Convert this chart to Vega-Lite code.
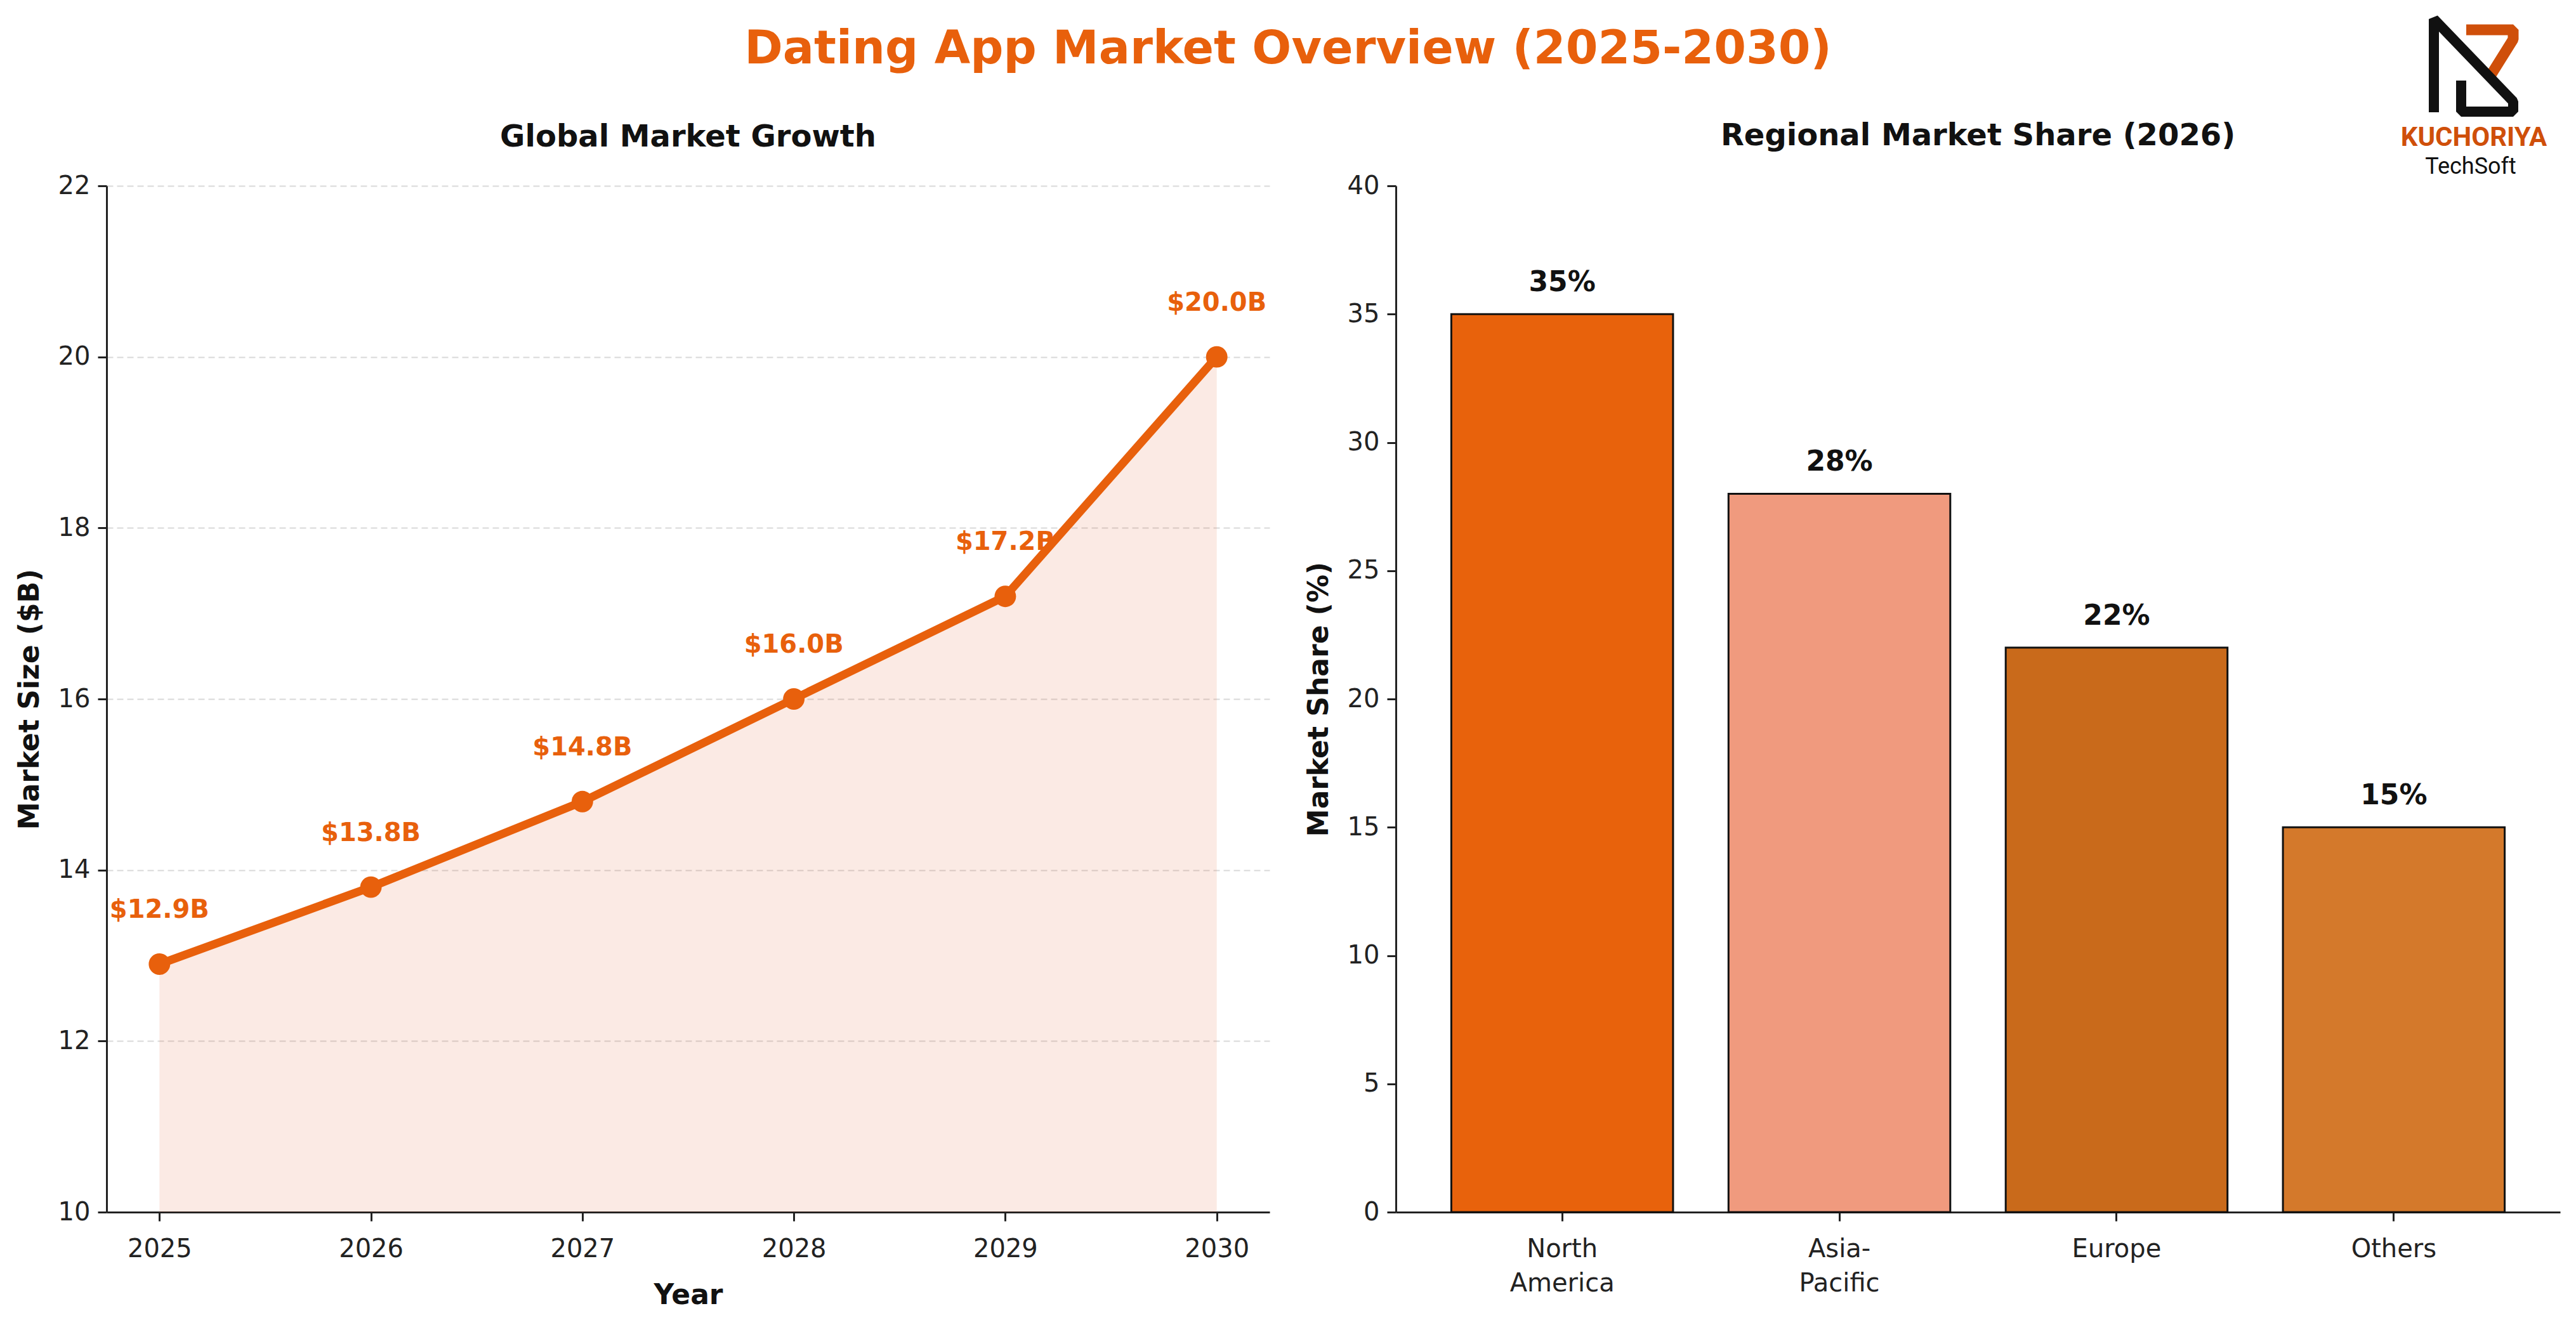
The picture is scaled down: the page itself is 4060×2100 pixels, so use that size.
{
  "$schema": "https://vega.github.io/schema/vega-lite/v6.json",
  "background": "white",
  "padding": {"left": 25, "top": 22, "right": 25, "bottom": 20},
  "spacing": 56,
  "config": {
    "font": "DejaVu Sans",
    "view": {"stroke": null},
    "axis": {
      "labelFont": "DejaVu Sans",
      "labelFontSize": 40,
      "labelColor": "#222222",
      "titleFont": "DejaVu Sans",
      "titleFontSize": 44,
      "titleFontWeight": "bold",
      "titleColor": "#111111",
      "domainColor": "#222222",
      "domainWidth": 3,
      "tickColor": "#222222",
      "tickWidth": 3,
      "tickSize": 14,
      "labelPadding": 12,
      "titlePadding": 22
    },
    "title": {"font": "DejaVu Sans", "fontWeight": "bold", "color": "#111111"}
  },
  "title": {
    "text": "Dating App Market Overview (2025-2030)",
    "fontSize": 73,
    "color": "#E8600C",
    "anchor": "middle",
    "offset": -93
  },
  "datasets": {
    "growth": [
      {"year": 2025, "size": 12.9},
      {"year": 2026, "size": 13.8},
      {"year": 2027, "size": 14.8},
      {"year": 2028, "size": 16.0},
      {"year": 2029, "size": 17.2},
      {"year": 2030, "size": 20.0}
    ],
    "share": [
      {"region": "North America", "share": 35},
      {"region": "Asia-Pacific", "share": 28},
      {"region": "Europe", "share": 22},
      {"region": "Others", "share": 15}
    ],
    "logo": [
      {"part": "orange", "i": 1, "u": 45.2, "v": 10.8},
      {"part": "orange", "i": 2, "u": 74.8, "v": 10.8},
      {"part": "orange", "i": 3, "u": 74.8, "v": 16.8},
      {"part": "orange", "i": 4, "u": 60.8, "v": 39.2},
      {"part": "black", "i": 1, "u": 24.8, "v": 62.8},
      {"part": "black", "i": 2, "u": 24.8, "v": 4.0},
      {"part": "black", "i": 3, "u": 74.8, "v": 56.0},
      {"part": "black", "i": 4, "u": 74.8, "v": 62.4},
      {"part": "black", "i": 5, "u": 42.0, "v": 62.4},
      {"part": "black", "i": 6, "u": 42.0, "v": 42.8}
    ],
    "logotext": [
      {"txt": "KUCHORIYA", "u": 50, "v": 78.8},
      {"txt": "TechSoft", "u": 48, "v": 97.2}
    ]
  },
  "hconcat": [
    {
      "width": 1833,
      "height": 1618,
      "title": {"text": "Global Market Growth", "fontSize": 48, "offset": 32},
      "data": {"name": "growth"},
      "transform": [
        {"calculate": "'$' + format(datum.size, '.1f') + 'B'", "as": "label"}
      ],
      "encoding": {
        "x": {
          "field": "year",
          "type": "quantitative",
          "title": "Year",
          "scale": {"domain": [2024.75, 2030.25], "nice": false, "zero": false},
          "axis": {"values": [2025, 2026, 2027, 2028, 2029, 2030], "format": "d", "grid": false, "labelPadding": 24, "titlePadding": 31}
        },
        "y": {
          "field": "size",
          "type": "quantitative",
          "title": "Market Size ($B)",
          "scale": {"domain": [10, 22], "nice": false, "zero": false},
          "axis": {
            "values": [10, 12, 14, 16, 18, 20, 22],
            "grid": true,
            "gridColor": "#d9d9d9",
            "gridWidth": 2,
            "gridDash": [10, 6]
          }
        }
      },
      "layer": [
        {
          "mark": {"type": "area", "color": "#DE501E", "opacity": 0.12},
          "encoding": {"y2": {"datum": 10}}
        },
        {
          "mark": {"type": "line", "color": "#E8600C", "strokeWidth": 13}
        },
        {
          "mark": {"type": "point", "filled": true, "color": "#E8600C", "opacity": 1, "size": 1150}
        },
        {
          "mark": {"type": "text", "color": "#E8600C", "fontWeight": "bold", "fontSize": 40, "baseline": "middle", "dy": -85},
          "encoding": {"text": {"field": "label"}}
        }
      ]
    },
    {
      "width": 1835,
      "height": 1618,
      "title": {"text": "Regional Market Share (2026)", "fontSize": 48, "offset": -217},
      "layer": [
        {
          "data": {"name": "share"},
          "transform": [
            {"calculate": "format(datum.share, 'd') + '%'", "as": "pct"}
          ],
          "encoding": {
            "x": {
              "field": "region",
              "type": "nominal",
              "sort": null,
              "title": null,
              "scale": {"paddingInner": 0.2, "paddingOuter": 0.2},
              "axis": {
                "labelAngle": 0,
                "labelPadding": 24,
                "labelLineHeight": 54,
                "labelBaseline": "top",
                "labelExpr": "datum.label == 'North America' ? ['North', 'America'] : datum.label == 'Asia-Pacific' ? ['Asia-', 'Pacific'] : datum.label"
              }
            },
            "y": {
              "field": "share",
              "type": "quantitative",
              "title": "Market Share (%)",
              "scale": {"domain": [0, 40], "nice": false},
              "axis": {"values": [0, 5, 10, 15, 20, 25, 30, 35, 40], "grid": false}
            }
          },
          "layer": [
            {
              "mark": {"type": "bar", "stroke": "#111111", "strokeWidth": 3},
              "encoding": {
                "color": {
                  "field": "region",
                  "type": "nominal",
                  "legend": null,
                  "scale": {
                    "domain": ["North America", "Asia-Pacific", "Europe", "Others"],
                    "range": ["#E8620C", "#F09A7E", "#C96A1B", "#D4792B"]
                  }
                }
              }
            },
            {
              "mark": {"type": "text", "color": "#111111", "fontWeight": "bold", "fontSize": 44, "baseline": "alphabetic", "dy": -36},
              "encoding": {"text": {"field": "pct"}}
            }
          ]
        },
        {
          "data": {"name": "logo"},
          "encoding": {
            "x": {"field": "u", "type": "quantitative", "axis": null, "scale": {"domain": [-629.6, 104.4], "nice": false, "zero": false}},
            "y": {"field": "v", "type": "quantitative", "axis": null, "scale": {"domain": [109.2, 756.4], "nice": false, "zero": false, "reverse": true}},
            "order": {"field": "i"}
          },
          "layer": [
            {
              "transform": [{"filter": "datum.part == 'orange'"}],
              "mark": {"type": "line", "color": "#CF4F0A", "strokeWidth": 17, "strokeJoin": "bevel", "strokeCap": "butt", "clip": false}
            },
            {
              "transform": [{"filter": "datum.part == 'black'"}],
              "mark": {"type": "line", "color": "#111111", "strokeWidth": 16, "strokeJoin": "bevel", "strokeCap": "butt", "clip": false}
            }
          ]
        },
        {
          "data": {"name": "logotext"},
          "encoding": {
            "x": {"field": "u", "type": "quantitative", "axis": null, "scale": {"domain": [-629.6, 104.4], "nice": false, "zero": false}},
            "y": {"field": "v", "type": "quantitative", "axis": null, "scale": {"domain": [109.2, 756.4], "nice": false, "zero": false, "reverse": true}},
            "text": {"field": "txt"}
          },
          "layer": [
            {
              "transform": [{"filter": "datum.txt == 'KUCHORIYA'"}],
              "mark": {"type": "text", "font": "Roboto", "fontWeight": "bold", "fontSize": 42, "color": "#CF4F0A", "baseline": "middle", "align": "center"}
            },
            {
              "transform": [{"filter": "datum.txt == 'TechSoft'"}],
              "mark": {"type": "text", "font": "Roboto", "fontSize": 36, "color": "#111111", "baseline": "middle", "align": "center"}
            }
          ]
        }
      ],
      "resolve": {"scale": {"x": "independent", "y": "independent"}}
    }
  ]
}
